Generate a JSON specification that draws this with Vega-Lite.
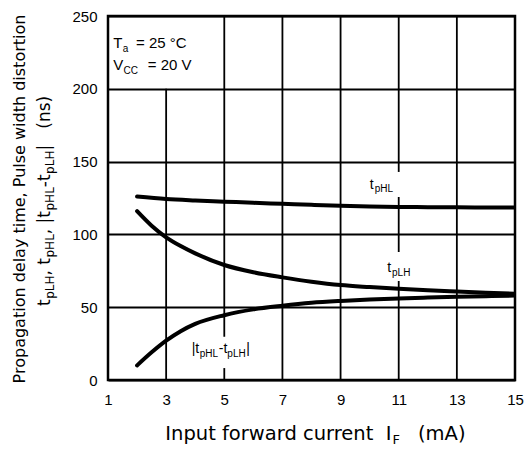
{
  "$schema": "https://vega.github.io/schema/vega-lite/v6.json",
  "width": 407,
  "height": 364,
  "autosize": {"type": "none"},
  "padding": {"left": 108, "top": 16, "right": 11, "bottom": 69},
  "background": "white",
  "config": {
    "font": "Liberation Sans",
    "view": {"stroke": "black", "strokeWidth": 2.5},
    "text": {"color": "black", "baseline": "alphabetic", "align": "left"}
  },
  "datasets": {
    "curves": [
      {"series": "tpHL", "current": 2, "delay": 126},
      {"series": "tpHL", "current": 3, "delay": 124.3},
      {"series": "tpHL", "current": 4, "delay": 123.3},
      {"series": "tpHL", "current": 5, "delay": 122.5},
      {"series": "tpHL", "current": 6, "delay": 121.7},
      {"series": "tpHL", "current": 7, "delay": 121},
      {"series": "tpHL", "current": 8, "delay": 120.3},
      {"series": "tpHL", "current": 9, "delay": 119.7},
      {"series": "tpHL", "current": 10, "delay": 119.2},
      {"series": "tpHL", "current": 11, "delay": 118.9},
      {"series": "tpHL", "current": 12, "delay": 118.7},
      {"series": "tpHL", "current": 13, "delay": 118.6},
      {"series": "tpHL", "current": 14, "delay": 118.5},
      {"series": "tpHL", "current": 15, "delay": 118.5},
      {"series": "tpLH", "current": 2, "delay": 116},
      {"series": "tpLH", "current": 2.5, "delay": 106},
      {"series": "tpLH", "current": 3, "delay": 98},
      {"series": "tpLH", "current": 3.5, "delay": 92},
      {"series": "tpLH", "current": 4, "delay": 87},
      {"series": "tpLH", "current": 5, "delay": 79},
      {"series": "tpLH", "current": 6, "delay": 74},
      {"series": "tpLH", "current": 7, "delay": 70.5},
      {"series": "tpLH", "current": 8, "delay": 67.5},
      {"series": "tpLH", "current": 9, "delay": 65.2},
      {"series": "tpLH", "current": 10, "delay": 63.8},
      {"series": "tpLH", "current": 11, "delay": 62.6},
      {"series": "tpLH", "current": 12, "delay": 61.6},
      {"series": "tpLH", "current": 13, "delay": 60.8},
      {"series": "tpLH", "current": 14, "delay": 60},
      {"series": "tpLH", "current": 15, "delay": 59.3},
      {"series": "diff", "current": 2, "delay": 10},
      {"series": "diff", "current": 2.5, "delay": 19},
      {"series": "diff", "current": 3, "delay": 27},
      {"series": "diff", "current": 3.5, "delay": 33.5},
      {"series": "diff", "current": 4, "delay": 38.5},
      {"series": "diff", "current": 5, "delay": 44.5},
      {"series": "diff", "current": 6, "delay": 48.5},
      {"series": "diff", "current": 7, "delay": 51},
      {"series": "diff", "current": 8, "delay": 53},
      {"series": "diff", "current": 9, "delay": 54.3},
      {"series": "diff", "current": 10, "delay": 55.3},
      {"series": "diff", "current": 11, "delay": 56},
      {"series": "diff", "current": 12, "delay": 56.6},
      {"series": "diff", "current": 13, "delay": 57.1},
      {"series": "diff", "current": 14, "delay": 57.6},
      {"series": "diff", "current": 15, "delay": 58}
    ],
    "vgrid": [
      {"x": 3, "y": 0, "y2": 200},
      {"x": 5, "y": 0, "y2": 8.2},
      {"x": 5, "y": 29.7, "y2": 250},
      {"x": 7, "y": 0, "y2": 250},
      {"x": 9, "y": 0, "y2": 250},
      {"x": 11, "y": 0, "y2": 68},
      {"x": 11, "y": 87.9, "y2": 125.7},
      {"x": 11, "y": 142.9, "y2": 250},
      {"x": 13, "y": 0, "y2": 250}
    ]
  },
  "encoding": {
    "x": {"field": "x", "type": "quantitative", "scale": {"domain": [1, 15], "nice": false, "zero": false},
      "axis": {"values": [1, 3, 5, 7, 9, 11, 13, 15], "grid": false, "ticks": false, "domain": false, "labelPadding": 12, "labelFontSize": 15, "labelColor": "black", "labelFlush": false, "title": null}},
    "y": {"field": "y", "type": "quantitative", "scale": {"domain": [0, 250], "nice": false, "zero": false},
      "axis": {"values": [0, 50, 100, 150, 200, 250], "grid": true, "gridColor": "black", "gridWidth": 1.8, "gridOpacity": 1, "ticks": false, "domain": false, "labelPadding": 11, "labelFontSize": 15, "labelColor": "black", "labelFlush": false, "title": null}}
  },
  "layer": [
    {"data": {"name": "vgrid"}, "mark": {"type": "rule", "color": "black", "strokeWidth": 1.8}, "encoding": {"y2": {"field": "y2"}}},
    {"data": {"name": "curves"}, "mark": {"type": "line", "color": "black", "strokeWidth": 4, "interpolate": "monotone", "clip": true, "strokeCap": "round"},
      "encoding": {"x": {"field": "current", "type": "quantitative"}, "y": {"field": "delay", "type": "quantitative"}, "detail": {"field": "series"}}},

    {"data": {"values": [{"x": 1, "y": 125, "t": "Propagation delay time, Pulse width distortion"}]}, "mark": {"type": "text", "angle": 270, "align": "center", "font": "DejaVu Sans", "fontSize": 16, "dx": -1, "dy": -83}, "encoding": {"text": {"field": "t"}}},
    {"data": {"values": [{"x": 1, "y": 0, "t": "t"}]}, "mark": {"type": "text", "angle": 270, "font": "DejaVu Sans", "fontSize": 17, "dx": 74, "dy": -58}, "encoding": {"text": {"field": "t"}}},
    {"data": {"values": [{"x": 1, "y": 0, "t": "pLH"}]}, "mark": {"type": "text", "angle": 270, "font": "DejaVu Sans", "fontSize": 12, "dx": 81.2, "dy": -54}, "encoding": {"text": {"field": "t"}}},
    {"data": {"values": [{"x": 1, "y": 0, "t": ", t"}]}, "mark": {"type": "text", "angle": 270, "font": "DejaVu Sans", "fontSize": 17, "dx": 104.5, "dy": -58}, "encoding": {"text": {"field": "t"}}},
    {"data": {"values": [{"x": 1, "y": 0, "t": "pHL"}]}, "mark": {"type": "text", "angle": 270, "font": "DejaVu Sans", "fontSize": 12, "dx": 122.5, "dy": -54}, "encoding": {"text": {"field": "t"}}},
    {"data": {"values": [{"x": 1, "y": 0, "t": ", |t"}]}, "mark": {"type": "text", "angle": 270, "font": "DejaVu Sans", "fontSize": 17, "dx": 145.8, "dy": -58}, "encoding": {"text": {"field": "t"}}},
    {"data": {"values": [{"x": 1, "y": 0, "t": "pHL"}]}, "mark": {"type": "text", "angle": 270, "font": "DejaVu Sans", "fontSize": 12, "dx": 169.5, "dy": -54}, "encoding": {"text": {"field": "t"}}},
    {"data": {"values": [{"x": 1, "y": 0, "t": "-t"}]}, "mark": {"type": "text", "angle": 270, "font": "DejaVu Sans", "fontSize": 17, "dx": 192.8, "dy": -58}, "encoding": {"text": {"field": "t"}}},
    {"data": {"values": [{"x": 1, "y": 0, "t": "pLH"}]}, "mark": {"type": "text", "angle": 270, "font": "DejaVu Sans", "fontSize": 12, "dx": 206.1, "dy": -54}, "encoding": {"text": {"field": "t"}}},
    {"data": {"values": [{"x": 1, "y": 0, "t": "|"}]}, "mark": {"type": "text", "angle": 270, "font": "DejaVu Sans", "fontSize": 17, "dx": 229.4, "dy": -58}, "encoding": {"text": {"field": "t"}}},
    {"data": {"values": [{"x": 1, "y": 0, "t": "(ns)"}]}, "mark": {"type": "text", "angle": 270, "font": "DejaVu Sans", "fontSize": 17, "dx": 251.3, "dy": -58}, "encoding": {"text": {"field": "t"}}},

    {"data": {"values": [{"x": 11, "y": 0, "t": "Input forward current"}]}, "mark": {"type": "text", "align": "right", "font": "DejaVu Sans", "fontSize": 19.5, "dx": -25.4, "dy": 59.8}, "encoding": {"text": {"field": "t"}}},
    {"data": {"values": [{"x": 11, "y": 0, "t": "I"}]}, "mark": {"type": "text", "align": "right", "font": "DejaVu Sans", "fontSize": 19.5, "dx": -7.2, "dy": 59.8}, "encoding": {"text": {"field": "t"}}},
    {"data": {"values": [{"x": 11, "y": 0, "t": "F"}]}, "mark": {"type": "text", "font": "DejaVu Sans", "fontSize": 13, "dx": -6.2, "dy": 63.8}, "encoding": {"text": {"field": "t"}}},
    {"data": {"values": [{"x": 11, "y": 0, "t": "(mA)"}]}, "mark": {"type": "text", "font": "DejaVu Sans", "fontSize": 19.5, "dx": 19.3, "dy": 59.8}, "encoding": {"text": {"field": "t"}}},

    {"data": {"values": [{"x": 1, "y": 250, "t": "T"}]}, "mark": {"type": "text", "fontSize": 15, "dx": 5.3, "dy": 32.3}, "encoding": {"text": {"field": "t"}}},
    {"data": {"values": [{"x": 1, "y": 250, "t": "a"}]}, "mark": {"type": "text", "fontSize": 10, "dx": 14.8, "dy": 36}, "encoding": {"text": {"field": "t"}}},
    {"data": {"values": [{"x": 1, "y": 250, "t": "= 25 °C"}]}, "mark": {"type": "text", "fontSize": 15, "dx": 28, "dy": 32.3}, "encoding": {"text": {"field": "t"}}},
    {"data": {"values": [{"x": 1, "y": 250, "t": "V"}]}, "mark": {"type": "text", "fontSize": 15, "dx": 5.3, "dy": 54}, "encoding": {"text": {"field": "t"}}},
    {"data": {"values": [{"x": 1, "y": 250, "t": "CC"}]}, "mark": {"type": "text", "fontSize": 10, "dx": 15.5, "dy": 57.7}, "encoding": {"text": {"field": "t"}}},
    {"data": {"values": [{"x": 1, "y": 250, "t": "= 20 V"}]}, "mark": {"type": "text", "fontSize": 15, "dx": 39.7, "dy": 54}, "encoding": {"text": {"field": "t"}}},

    {"data": {"values": [{"x": 10.15, "y": 131.2, "t": "t"}]}, "mark": {"type": "text", "align": "right", "fontSize": 14, "dx": -0.3}, "encoding": {"text": {"field": "t"}}},
    {"data": {"values": [{"x": 10.15, "y": 131.2, "t": "pHL"}]}, "mark": {"type": "text", "fontSize": 10, "dx": 0.8, "dy": 3.5}, "encoding": {"text": {"field": "t"}}},
    {"data": {"values": [{"x": 10.75, "y": 74, "t": "t"}]}, "mark": {"type": "text", "align": "right", "fontSize": 14, "dx": -0.3}, "encoding": {"text": {"field": "t"}}},
    {"data": {"values": [{"x": 10.75, "y": 74, "t": "pLH"}]}, "mark": {"type": "text", "fontSize": 10, "dx": 0.6, "dy": 3.5}, "encoding": {"text": {"field": "t"}}},

    {"data": {"values": [{"x": 3.88, "y": 18.5, "t": "|t"}]}, "mark": {"type": "text", "fontSize": 14, "dx": 0}, "encoding": {"text": {"field": "t"}}},
    {"data": {"values": [{"x": 3.88, "y": 18.5, "t": "pHL"}]}, "mark": {"type": "text", "fontSize": 10, "dx": 8, "dy": 3.5}, "encoding": {"text": {"field": "t"}}},
    {"data": {"values": [{"x": 3.88, "y": 18.5, "t": "-t"}]}, "mark": {"type": "text", "fontSize": 14, "dx": 27}, "encoding": {"text": {"field": "t"}}},
    {"data": {"values": [{"x": 3.88, "y": 18.5, "t": "pLH"}]}, "mark": {"type": "text", "fontSize": 10, "dx": 35.6, "dy": 3.5}, "encoding": {"text": {"field": "t"}}},
    {"data": {"values": [{"x": 3.88, "y": 18.5, "t": "|"}]}, "mark": {"type": "text", "fontSize": 14, "dx": 54.5}, "encoding": {"text": {"field": "t"}}}
  ]
}
